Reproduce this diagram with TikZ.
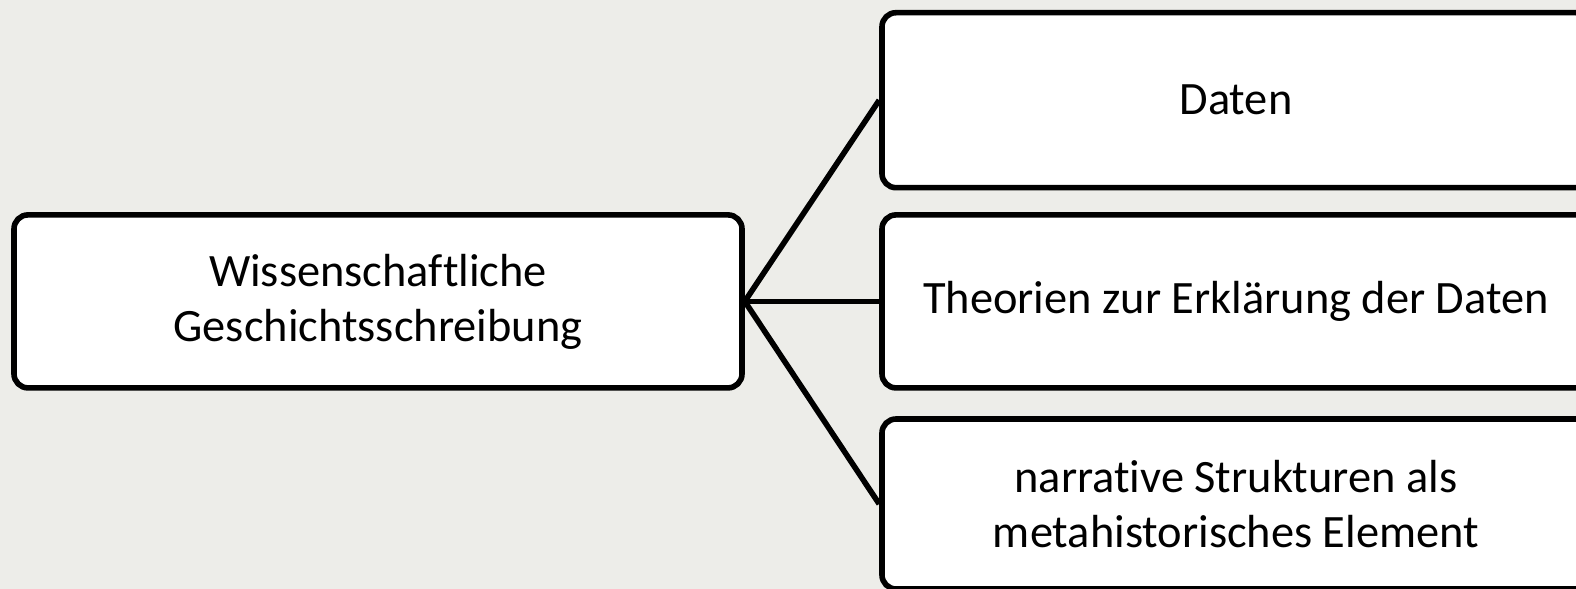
\documentclass[tikz,border=0pt]{standalone}
\usepackage{fontspec}
\setmainfont[Ligatures=NoCommon]{Carlito}
\usetikzlibrary{positioning}

\definecolor{bggrey}{RGB}{237,237,233}

\begin{document}
\begin{tikzpicture}[x=1pt,y=1pt,
  box/.style={draw,line width=2.8pt,rounded corners=7pt,fill=white,align=center,
    font=\fontsize{23.2}{27.5}\selectfont,inner sep=0pt},
  link/.style={line width=2.8pt}]
\useasboundingbox[fill=bggrey] (0,0) rectangle (788,294.5);
\clip (0,0) rectangle (788,294.5);
% main box
\node[box,minimum width=364pt,minimum height=86.5pt] (wg) at (189,143.8) {Wissenschaftliche\\Geschichtsschreibung};
% three parts
\node[box,minimum width=354pt,minimum height=87.5pt] (daten) at (618,244.4) {Daten};
\node[box,minimum width=354pt,minimum height=86.5pt] (theorien) at (618,143.8) {Theorien zur Erklärung der Daten};
\node[box,minimum width=354pt,minimum height=85pt] (narrativ) at (618,42.5) {narrative Strukturen als\\metahistorisches Element};
\draw[link] (wg.east) -- (daten.west);
\draw[link] (wg.east) -- (theorien.west);
\draw[link] (wg.east) -- (narrativ.west);
\end{tikzpicture}
\end{document}
